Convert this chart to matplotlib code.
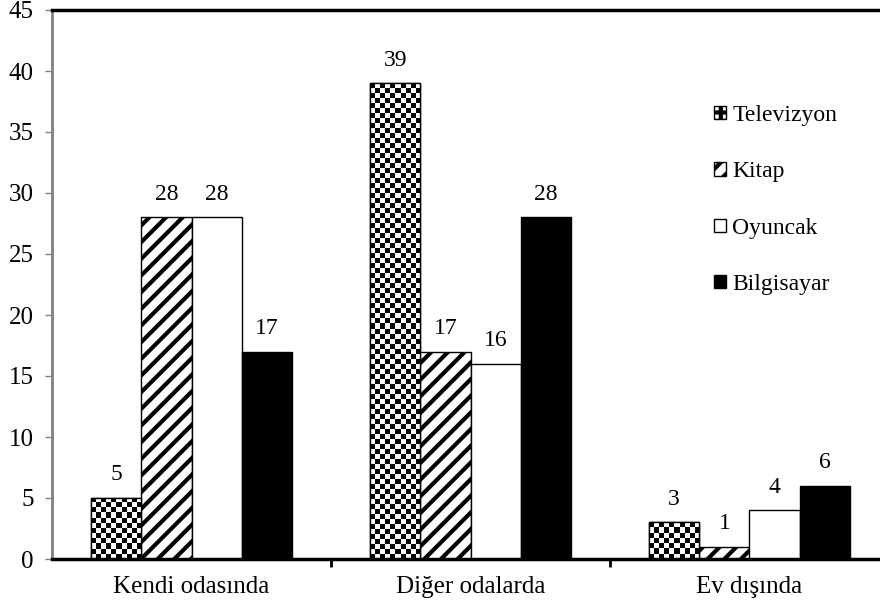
import matplotlib.pyplot as plt
import numpy as np
from matplotlib.patches import Patch

plt.rcParams["font.family"] = ["Liberation Serif", "DejaVu Serif"]
plt.rcParams["hatch.linewidth"] = 3.0

categories = ["Kendi odasında", "Diğer odalarda", "Ev dışında"]
series = ["Televizyon", "Kitap", "Oyuncak", "Bilgisayar"]
values = {
    "Televizyon": [5, 39, 3],
    "Kitap": [28, 17, 1],
    "Oyuncak": [28, 16, 4],
    "Bilgisayar": [17, 28, 6],
}

styles = {
    "Televizyon": dict(facecolor="white", hatch=None),
    "Kitap": dict(facecolor="white", hatch="//"),
    "Oyuncak": dict(facecolor="white", hatch=None),
    "Bilgisayar": dict(facecolor="black", hatch=None),
}

fig = plt.figure(figsize=(8.8, 6.07), dpi=100)
ax = fig.add_axes([52 / 880, 48 / 607, 837 / 880, 549 / 607])

x = np.arange(len(categories))
width = 0.18
offsets = np.array([-1.5, -0.5, 0.5, 1.5]) * width
ax.set_xlim(-0.5, 2.5)
ax.set_ylim(0, 45)

for name, off in zip(series, offsets):
    bars = ax.bar(x + off, values[name], width, edgecolor="black", linewidth=1.0,
                  label=name, **styles[name])
    for b, v in zip(bars, values[name]):
        ax.annotate(str(v), (b.get_x() + b.get_width() / 2, v), xytext=(0, 9),
                    textcoords="offset points", ha="center", va="bottom", fontsize=17)
    if name == "Televizyon":
        # checkerboard fill (~5 px cells), clipped to each bar
        fig.canvas.draw()
        for b in bars:
            x0, y0 = b.get_x(), b.get_y()
            x1, y1 = x0 + b.get_width(), y0 + b.get_height()
            p0 = ax.transData.transform((x0, y0))
            p1 = ax.transData.transform((x1, y1))
            nx = max(1, int(round((p1[0] - p0[0]) / 5)))
            ny = max(1, int(round((p1[1] - p0[1]) / 5)))
            checker = (np.add.outer(np.arange(ny), np.arange(nx)) % 2).astype(float)
            im = ax.imshow(checker, cmap="gray", extent=(x0, x1, y0, y1),
                           interpolation="nearest", aspect="auto", zorder=b.get_zorder() + 0.1)
            im.set_clip_path(b)
            ax.add_patch(plt.Rectangle((x0, y0), x1 - x0, y1 - y0, fill=False,
                                       edgecolor="black", linewidth=1.0, zorder=b.get_zorder() + 0.2))

ax.set_yticks(range(0, 46, 5))
ax.set_xticks([0.5, 1.5])
ax.set_xticklabels([])
ax.set_xticks(x, minor=True)
ax.set_xticklabels(categories, minor=True, fontsize=18)
ax.tick_params(axis="x", which="minor", length=0, pad=12)
ax.tick_params(axis="x", which="major", length=6, width=2, direction="out")
ax.tick_params(axis="y", labelsize=18, length=5, color="#808080", width=1, pad=8)

ax.spines["right"].set_visible(False)
ax.spines["left"].set_color("#808080")
ax.spines["left"].set_linewidth(2)
ax.spines["top"].set_linewidth(2.5)
ax.spines["bottom"].set_linewidth(2.5)

handles = [
    Patch(facecolor="white", edgecolor="black", hatch="++", label="Televizyon"),
    Patch(facecolor="white", edgecolor="black", hatch="//", label="Kitap"),
    Patch(facecolor="white", edgecolor="black", label="Oyuncak"),
    Patch(facecolor="black", edgecolor="black", label="Bilgisayar"),
]
ax.legend(handles=handles, loc="upper left", bbox_to_anchor=(0.766, 0.866), frameon=False,
          fontsize=17, handlelength=0.5, handleheight=0.5, handletextpad=0.25, labelspacing=1.5)

fig.savefig("out.png", dpi=100)
